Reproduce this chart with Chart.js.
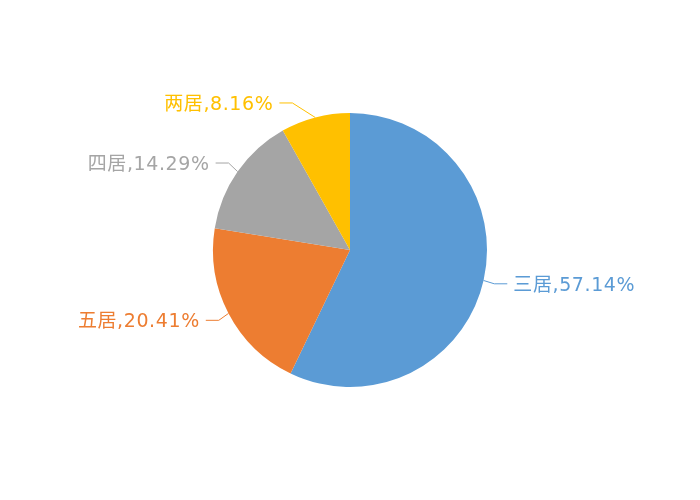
<!DOCTYPE html>
<html>
<head>
<meta charset="utf-8">
<script src="https://cdn.jsdelivr.net/npm/chart.js@4"></script>
<style>
  html, body { margin: 0; padding: 0; background: #fff; }
  #wrap { width: 700px; height: 500px; }
</style>
</head>
<body>
<div id="wrap"><canvas id="chart" width="700" height="500"></canvas></div>
<script>
// data
const categorias = ["三居", "五居", "四居", "两居"];
const valores = [57.14, 20.41, 14.29, 8.16];
const cores = ["#5B9BD5", "#ED7D31", "#A5A5A5", "#FFC000"];

// ---- ROTULOS COM LINHA ----
const rotulosPlugin = {
  id: "rotulos",
  afterDatasetsDraw(chart) {
    const ctx = chart.ctx;
    const meta = chart.getDatasetMeta(0);
    ctx.save();
    ctx.font = "19px 'DejaVu Sans', 'Noto Sans CJK SC', sans-serif";
    ctx.letterSpacing = "0.6px";
    ctx.textBaseline = "middle";
    meta.data.forEach((arc, i) => {
      const mid = (arc.startAngle + arc.endAngle) / 2;
      const cx = arc.x, cy = arc.y, r = arc.outerRadius;
      const dx = Math.cos(mid), dy = Math.sin(mid);
      const lado = dx >= 0 ? 1 : -1;
      const x0 = cx + dx * r, y0 = cy + dy * r;
      // labels near the top get pushed sideways
      const extra = Math.max(0, Math.abs(dy) - 0.8) * 120;
      const x1 = x0 + dx * 11 + lado * extra, y1 = y0 + dy * 15;
      const x2 = x1 + lado * 13;
      ctx.strokeStyle = cores[i];
      ctx.lineWidth = 1;
      ctx.beginPath();
      ctx.moveTo(x0, y0);
      ctx.lineTo(x1, y1);
      ctx.lineTo(x2, y1);
      ctx.stroke();
      ctx.fillStyle = cores[i];
      ctx.textAlign = lado > 0 ? "left" : "right";
      ctx.fillText(categorias[i] + "," + valores[i].toFixed(2) + "%", x2 + lado * 6, y1 + 2);
    });
    ctx.restore();
  }
};

new Chart(document.getElementById("chart"), {
  type: "pie",
  data: {
    labels: categorias,
    datasets: [{
      data: valores,
      backgroundColor: cores,
      borderWidth: 0
    }]
  },
  options: {
    responsive: false,
    animation: false,
    layout: { padding: { top: 113, bottom: 113, left: 213, right: 213 } },
    plugins: {
      legend: { display: false },
      tooltip: { enabled: false }
    }
  },
  plugins: [rotulosPlugin]
});
</script>
</body>
</html>
